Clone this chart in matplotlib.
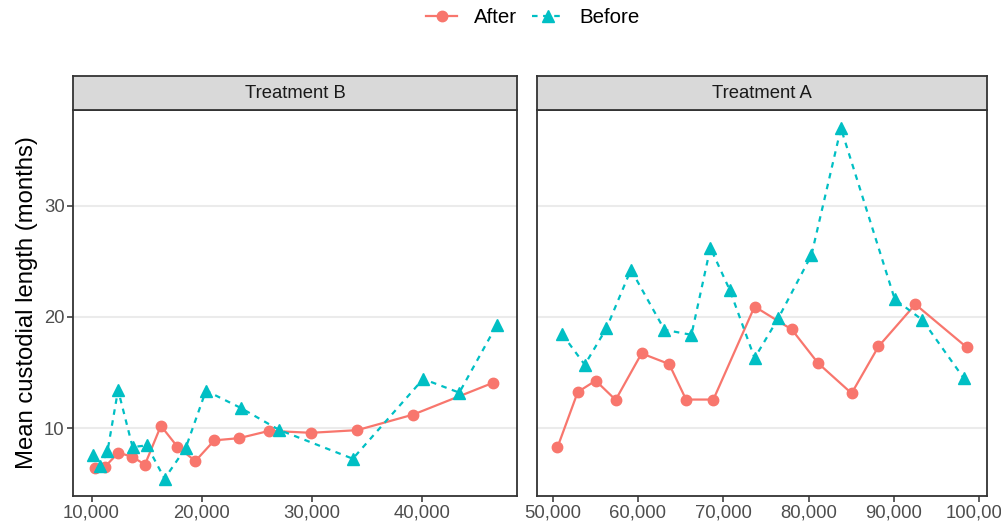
import numpy as np
import matplotlib.pyplot as plt
from matplotlib.lines import Line2D

plt.rcParams['font.family'] = ['Liberation Sans', 'DejaVu Sans']

# data
b_after_x = [10300, 11200, 12440, 13700, 14850, 16300, 17800, 19430, 21150, 23400,
             26150, 29940, 34130, 39220, 46500]
b_after_y = [6.42, 6.51, 7.79, 7.43, 6.72, 10.21, 8.33, 7.04, 8.90, 9.10,
             9.76, 9.58, 9.82, 11.22, 14.09]
b_before_x = [10150, 10800, 11450, 12410, 13730, 15030, 16630, 18550, 20390, 23550,
              27020, 33730, 40120, 43400, 46810]
b_before_y = [7.61, 6.6, 7.94, 13.43, 8.30, 8.45, 5.46, 8.21, 13.37, 11.82,
              9.85, 7.25, 14.42, 13.19, 19.28]

a_after_x = [50580, 52960, 55060, 57400, 60440, 63670, 65650, 68850, 73680, 78040,
             81110, 85050, 88200, 92520, 98520]
a_after_y = [8.27, 13.25, 14.27, 12.54, 16.72, 15.76, 12.57, 12.57, 20.93, 18.87,
             15.85, 13.13, 17.34, 21.13, 17.28]
a_before_x = [51130, 53780, 56310, 59190, 63120, 66280, 68500, 70790, 73680, 76480,
              80340, 83800, 90110, 93340, 98170]
a_before_y = [18.45, 15.70, 18.96, 24.24, 18.84, 18.39, 26.21, 22.39, 16.30, 19.91,
              25.55, 36.96, 21.58, 19.73, 14.51]

panels = ['Treatment B', 'Treatment A']
red = '#F8766D'
teal = '#00BFC4'

W, H = 1001, 527
fig = plt.figure(figsize=(W / 100, H / 100), dpi=100)


def box(x0, y0, x1, y1):
    return [x0 / W, 1 - y1 / H, (x1 - x0) / W, (y1 - y0) / H]


panel_px = [(73, 517), (537, 987)]
xticks = [[10000, 20000, 30000, 40000], [50000, 60000, 70000, 80000, 90000, 100000]]
series = [(b_after_x, b_after_y, b_before_x, b_before_y),
          (a_after_x, a_after_y, a_before_x, a_before_y)]

ymin, ymax = 3.9, 38.6
axes = []
for i, (x0, x1) in enumerate(panel_px):
    ax = fig.add_axes(box(x0, 110, x1, 496))
    ax_x, ax_y, bx, by = series[i]
    ax.plot(ax_x, ax_y, color=red, lw=1.6, marker='o', ms=7.5, zorder=3)
    ax.plot(bx, by, color=teal, lw=1.6, ls=(0, (2.5, 2.5)), marker='^', ms=8.5, zorder=3)
    allx = ax_x + bx
    rng = max(allx) - min(allx)
    ax.set_xlim(min(allx) - 0.05 * rng, max(allx) + 0.05 * rng)
    ax.set_ylim(ymin, ymax)
    ax.set_xticks(xticks[i])
    ax.set_xticklabels([f'{v:,}' for v in xticks[i]])
    ax.set_yticks([10, 20, 30])
    ax.grid(axis='y', color='#EBEBEB', lw=1.5, zorder=0)
    ax.set_axisbelow(True)
    for s in ax.spines.values():
        s.set_color('#333333')
        s.set_linewidth(1.3)
    ax.tick_params(colors='#333333', labelcolor='#4D4D4D', labelsize=13.3,
                   length=4, width=1.1, pad=2)
    if i > 0:
        ax.tick_params(axis='y', labelleft=False, length=0)
    axes.append(ax)

    st = fig.add_axes(box(x0, 76, x1, 110))
    st.set_facecolor('#D9D9D9')
    st.set_xticks([])
    st.set_yticks([])
    for s in st.spines.values():
        s.set_color('#333333')
        s.set_linewidth(1.3)
    st.text(0.5, 0.5, panels[i], ha='center', va='center', fontsize=13.3,
            color='#1A1A1A', transform=st.transAxes)

axes[0].set_ylabel('Mean custodial length (months)', fontsize=17.2, color='black', labelpad=4)

handles = [Line2D([], [], color=red, lw=1.6, marker='o', ms=7.5),
           Line2D([], [], color=teal, lw=1.6, ls=(0, (2.5, 2.5)), marker='^', ms=8.5)]
fig.legend(handles, ['After', 'Before'], loc='center', bbox_to_anchor=(533 / W, 1 - 18 / H),
           ncol=2, frameon=False, fontsize=14.8, handlelength=1.5, columnspacing=0.75,
           handletextpad=0.8)

fig.savefig('out.png', dpi=100)
